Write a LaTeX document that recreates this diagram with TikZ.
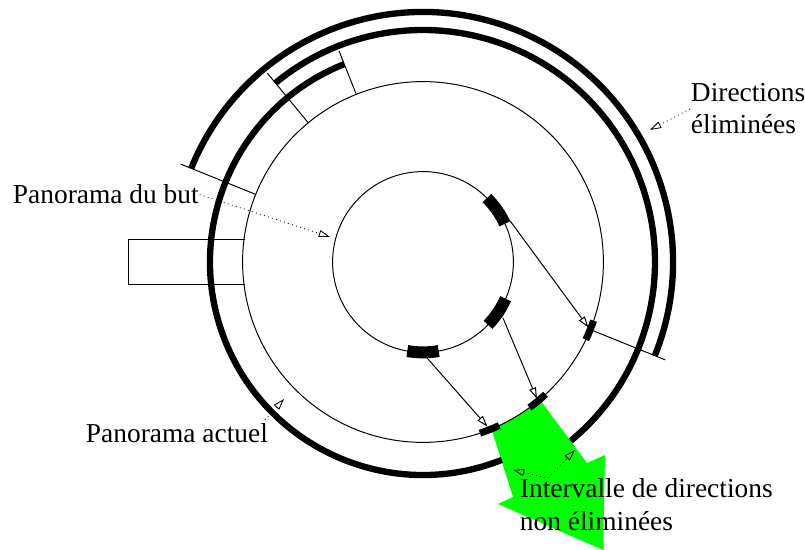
\documentclass[tikz,border=0pt]{standalone}
\usepackage{fontspec}
\setmainfont{Liberation Serif}
\usetikzlibrary{arrows.meta}

\tikzset{
  fin/.style={line width=0.7pt},
  epais/.style={line width=4.5pt},
  marque/.style={line width=8.5pt},
  petite/.style={line width=5pt},
  pointille/.style={line width=0.6pt, dash pattern=on 0.6pt off 2.4pt},
  fleche/.style={-{Triangle[open,length=8pt,width=5pt]}},
  etiquette/.style={inner sep=0.5pt, font=\fontsize{19.5}{22.8}\selectfont, align=left}
}

\begin{document}
\begin{tikzpicture}
	\useasboundingbox (-10.575,-7.2) rectangle (9.55,6.55);

	% intervalle non elimine (fleche verte)
	\fill[green] (-67.7:4.51) arc (-67.7:-49.7:4.51) -- (4.1,-5.025) -- (4.55,-4.825)
		-- (4.5,-7.2) -- (1.875,-6.05) -- (2.25,-5.875) -- cycle;

	% panorama du but et panorama actuel
	\draw[fin] (0,0) circle (2.26);
	\draw[fin] (0,0) circle (4.51);

	% demi-plans de directions eliminees
	\draw[epais] (-22:6.25) arc (-22:158:6.25);
	\draw[epais] (-50.5:5.8) arc (-50.5:129.5:5.8);
	\draw[epais] (111.7:5.325) arc (111.7:291.7:5.325);
	\draw[fin] (158:4.51) -- (158:6.53);
	\draw[fin] (-22:4.51) -- (-22:6.53);
	\draw[fin] (129.5:4.51) -- (129.5:6.12);
	\draw[fin] (111.7:4.51) -- (111.7:5.68);

	% rectangle a gauche
	\draw[fin] (-4.45,0.575) -- (-7.375,0.575) -- (-7.375,-0.55) -- (-4.45,-0.55);

	% amers sur le panorama du but
	\draw[marque] (25:2.26) arc (25:45:2.26);
	\draw[marque] (-44:2.26) arc (-44:-24:2.26);
	\draw[marque] (-100:2.26) arc (-100:-80:2.26);
	\coordinate (but1) at (25:2.41);
	\coordinate (but2) at (-35:2.44);
	\coordinate (but3) at (-87.6:2.4);

	% amers sur le panorama actuel
	\draw[petite] (-25.5:4.51) arc (-25.5:-19:4.51);
	\draw[petite] (-53.8:4.51) arc (-53.8:-47.2:4.51);
	\draw[petite] (-71.6:4.51) arc (-71.6:-65:4.51);
	\coordinate (act1) at (-21.6:4.45);
	\coordinate (act2) at (-50.2:4.45);
	\coordinate (act3) at (-68.6:4.42);

	\draw[fin, fleche] (but1) -- (act1);
	\draw[fin, fleche] (but2) -- (act2);
	\draw[fin, fleche] (but3) -- (act3);

	% etiquettes
	\node[etiquette, anchor=base west] (elim) at (6.675,3.2) {Directions\\éliminées};
	\node[etiquette, anchor=base west] (pbut) at (-10.275,1.45) {Panorama du but};
	\node[etiquette, anchor=base west] (pact) at (-8.45,-4.5175) {Panorama actuel};
	\node[etiquette, anchor=base west] (inter) at (2.4,-6.7) {Intervalle de directions\\non éliminées};

	\coordinate (elimpt) at (5.675,3.3);
	\coordinate (butpt) at (-2.325,0.625);
	\coordinate (actpt) at (-3.475,-3.425);
	\coordinate (pactpt) at (-3.95,-3.95);
	\coordinate (intg) at (2.25,-5.2);
	\coordinate (intm) at (3.125,-5.4);
	\coordinate (intd) at (3.8,-4.7);

	\draw[pointille, fleche] (elim.west) -- (elimpt);
	\draw[pointille, fleche] (pbut.east) -- (butpt);
	\draw[pointille, fleche] (pactpt) -- (actpt);
	\draw[pointille, {Triangle[open,length=8pt,width=5pt]}-{Triangle[open,length=8pt,width=5pt]}] (intg) -- (intm) -- (intd);
\end{tikzpicture}
\end{document}
